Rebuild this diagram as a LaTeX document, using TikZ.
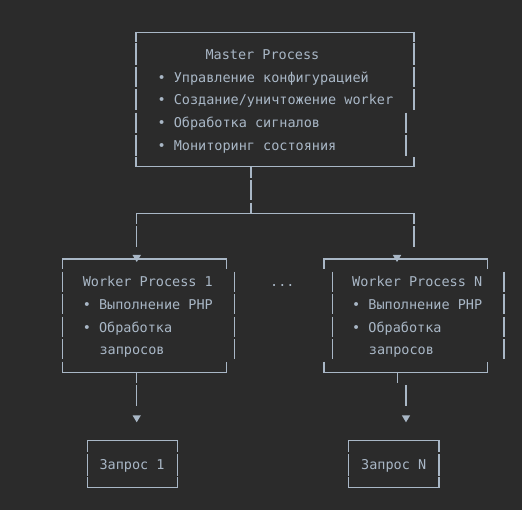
\documentclass[tikz,border=0pt]{standalone}
\usepackage{fontspec}
\setmonofont{DejaVu Sans Mono}
\definecolor{bg}{HTML}{2B2B2B}
\definecolor{fg}{HTML}{A9B7C6}
\tikzset{
  ln/.style={draw=fg, line width=1.1pt},
  txt/.style={inner sep=0pt, anchor=base west, text=fg, font=\ttfamily\fontsize{13.5}{16}\selectfont},
  tri/.style={fill=fg, draw=none},
}
\newcommand\arrowtri[2]{\fill[fg] (#1-4.2,#2) -- (#1+4.2,#2) -- (#1,#2+7) -- cycle;}
\begin{document}
\begin{tikzpicture}[x=1pt,y=-1pt]
\fill[bg] (0,0) rectangle (522,510);
\useasboundingbox (0,0) rectangle (522,510);

% ---------- texts ----------
\node[txt] (m0) at (205.3,59.5) {Master Process};
\node[txt] (m1) at (157.3,82.2) {• Управление конфигурацией};
\node[txt] (m2) at (157.3,104.9) {• Создание/уничтожение worker};
\node[txt] (m3) at (157.3,127.6) {• Обработка сигналов};
\node[txt] (m4) at (157.3,150.3) {• Мониторинг состояния};

\node[txt] (w10) at (82.6,287) {Worker Process 1};
\node[txt] (w11) at (82.6,309.6) {• Выполнение PHP};
\node[txt] (w12) at (82.6,332.2) {• Обработка};
\node[txt] (w13) at (99.3,354.6) {запросов};

\node[txt] (dots) at (270,287) {...};

\node[txt] (wn0) at (352,287) {Worker Process N};
\node[txt] (wn1) at (352,309.6) {• Выполнение PHP};
\node[txt] (wn2) at (352,332.2) {• Обработка};
\node[txt] (wn3) at (368.7,354.6) {запросов};

\node[txt] (r1) at (99.3,469.8) {Запрос 1};
\node[txt] (rn) at (361,469.8) {Запрос N};

% ---------- master box ----------
\draw[ln] (136,41.7) -- (136,32.7) -- (414,32.7) -- (414,41.7);
\foreach \a/\b in {43.3/65,66.7/87.2,89.3/110.3,112.7/133,135/155.7}
  \draw[ln] (136,\a) -- (136,\b);
\foreach \a/\b in {43.3/65,66.7/87.2,89.3/110.3}
  \draw[ln] (414,\a) -- (414,\b);
\foreach \a/\b in {112.7/133,135/155.7}
  \draw[ln] (406,\a) -- (406,\b);
\draw[ln] (136,157.3) -- (136,166.7) -- (414,166.7) -- (414,157.3);

% ---------- master -> workers ----------
\coordinate (mout) at (251,166.7);
\coordinate (split) at (251,213.3);
\coordinate (lft) at (136.7,213.3);
\coordinate (rgt) at (414,213.3);
\draw[ln] (mout) -- (251,178.3);
\draw[ln] (251,180) -- (251,200.5);
\draw[ln] (251,202.7) -- (split);
\draw[ln] (136.7,224) -- (lft) -- (rgt) -- (414,224);
\draw[ln] (136.7,226) -- (136.7,247.3);
\draw[ln] (414,226) -- (414,247.3);
\arrowtri{136.7}{255}
\arrowtri{397}{255}

% ---------- worker 1 ----------
\draw[ln] (62.7,269) -- (62.7,259) -- (226.7,259) -- (226.7,269);
\foreach \a/\b in {271.7/291.7,294/314.3,316.7/337,339.3/359.3}{
  \draw[ln] (62.7,\a) -- (62.7,\b);
  \draw[ln] (234.3,\a) -- (234.3,\b);
}
\draw[ln] (62.7,361.7) -- (62.7,372.3) -- (226.7,372.3) -- (226.7,361.7);

% ---------- worker N ----------
\draw[ln] (324,269) -- (324,259) -- (487.7,259) -- (487.7,269);
\foreach \a/\b in {271.7/291.7,294/314.3,316.7/337,339.3/359.3}{
  \draw[ln] (332.3,\a) -- (332.3,\b);
  \draw[ln] (504,\a) -- (504,\b);
}
\draw[ln] (324,361.7) -- (324,372.3) -- (487.7,372.3) -- (487.7,361.7);

% ---------- workers -> requests ----------
\draw[ln] (136.7,372.3) -- (136.7,383.3);
\draw[ln] (136.7,385) -- (136.7,406);
\arrowtri{136.7}{415.3}
\draw[ln] (397.7,372.3) -- (397.7,383.3);
\draw[ln] (406,385) -- (406,406);
\arrowtri{406}{415.3}

% ---------- request boxes ----------
\draw[ln] (87.3,451.7) -- (87.3,440.7) -- (177.7,440.7) -- (177.7,451.7);
\draw[ln] (87.3,454) -- (87.3,476);
\draw[ln] (177.7,454) -- (177.7,476);
\draw[ln] (87.3,477.3) -- (87.3,487.3) -- (177.7,487.3) -- (177.7,477.3);

\draw[ln] (348.3,451.7) -- (348.3,440.7) -- (439,440.7) -- (439,451.7);
\draw[ln] (348.3,454) -- (348.3,476);
\draw[ln] (439,454) -- (439,476);
\draw[ln] (348.3,477.3) -- (348.3,487.3) -- (439,487.3) -- (439,477.3);
\end{tikzpicture}
\end{document}
